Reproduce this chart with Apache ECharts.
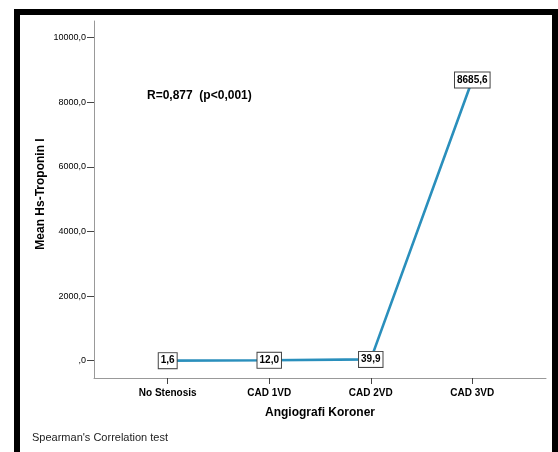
<!DOCTYPE html>
<html>
<head>
<meta charset="utf-8">
<script src="https://cdn.jsdelivr.net/npm/echarts@6/dist/echarts.min.js"></script>
<style>
  html, body { margin: 0; padding: 0; background: #fff; }
  #chart { width: 558px; height: 452px; }
</style>
</head>
<body>
<div id="chart"></div>
<script>
// Mean hs-Troponin I by coronary angiography group
const categories = ['No Stenosis', 'CAD 1VD', 'CAD 2VD', 'CAD 3VD'];
const meanTroponin = [1.6, 12.0, 39.9, 8685.6];
const yTicks = [0, 2000, 4000, 6000, 8000, 10000];

const FONT = 'Arial, "Liberation Sans", sans-serif';
const fmtComma = (v, d) => {
  const s = Number(v).toFixed(d).replace('.', ',');
  return s.startsWith('0,') ? s.slice(1) : s;
};

const chart = echarts.init(document.getElementById('chart'), null, { renderer: 'canvas' });

chart.setOption({
  animation: false,
  backgroundColor: '#ffffff',
  grid: { left: 94, right: 12, top: 21, bottom: 74 },
  xAxis: {
    type: 'value',
    min: -0.726,
    max: 3.726,
    name: 'Angiografi Koroner',
    nameLocation: 'middle',
    nameGap: 29,
    nameMoveOverlap: false,
    nameTextStyle: { fontFamily: FONT, fontWeight: 'bold', fontSize: 12, color: '#000' },
    axisLine: { show: true, onZero: false, lineStyle: { color: '#999', width: 1 } },
    axisTick: { show: true, length: 6, customValues: [0, 1, 2, 3], lineStyle: { color: '#444' } },
    axisLabel: {
      customValues: [0, 1, 2, 3],
      margin: 10,
      fontFamily: FONT, fontWeight: 'bold', fontSize: 10, color: '#000',
      formatter: v => categories[Math.round(v)]
    },
    splitLine: { show: false }
  },
  yAxis: {
    type: 'value',
    min: -535,
    max: 10510,
    name: 'Mean Hs-Troponin I',
    nameLocation: 'middle',
    nameGap: 47,
    nameMoveOverlap: false,
    nameTextStyle: { fontFamily: FONT, fontWeight: 'bold', fontSize: 12, color: '#000', padding: [0, 0, 0, 11] },
    axisLine: { show: true, onZero: false, lineStyle: { color: '#999', width: 1 } },
    axisTick: { show: true, length: 7, customValues: yTicks, lineStyle: { color: '#444' } },
    axisLabel: {
      customValues: yTicks,
      margin: 8,
      fontFamily: FONT, fontSize: 9, color: '#000',
      formatter: v => fmtComma(v, 1)
    },
    splitLine: { show: false }
  },
  series: [{
    type: 'line',
    data: meanTroponin.map((v, i) => [i, v]),
    symbol: 'circle',
    symbolSize: 0.1,
    itemStyle: { color: '#2a8fbc' },
    lineStyle: { color: '#2a8fbc', width: 2.6 },
    label: {
      show: true,
      position: 'inside',
      formatter: p => fmtComma(p.value[1], 1),
      fontFamily: FONT, fontWeight: 'bold', fontSize: 10, color: '#000',
      backgroundColor: '#fff',
      borderColor: '#444',
      borderWidth: 1,
      padding: [3, 2, 2, 2]
    },
    z: 3
  }],
  graphic: [
    {
      type: 'rect',
      shape: { x: 17, y: 12, width: 538, height: 470 },
      style: { fill: 'none', stroke: '#000', lineWidth: 6 },
      silent: true
    },
    {
      type: 'text',
      left: 147,
      top: 90,
      style: { text: 'R=0,877  (p<0,001)', fontFamily: FONT, fontWeight: 'bold', fontSize: 12, fill: '#000' }
    },
    {
      type: 'text',
      left: 32,
      top: 432,
      style: { text: "Spearman's Correlation test", fontFamily: FONT, fontSize: 11, fill: '#222' }
    }
  ]
});
</script>
</body>
</html>
